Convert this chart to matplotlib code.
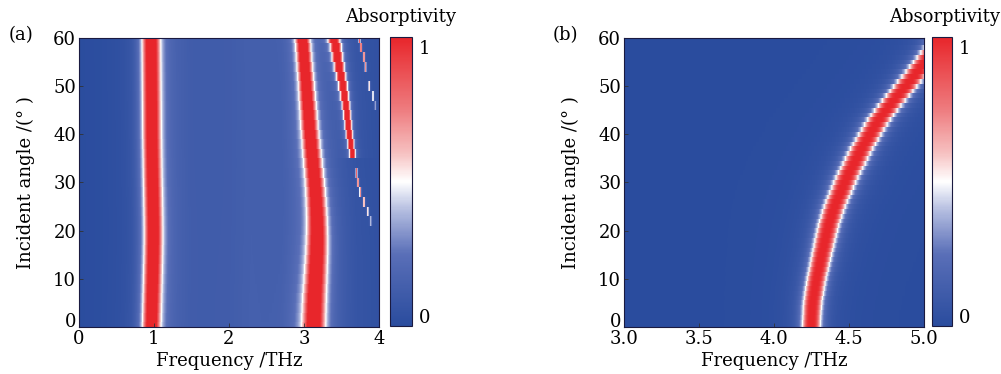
import numpy as np
import matplotlib
matplotlib.use("Agg")
import matplotlib.pyplot as plt
from matplotlib.colors import LinearSegmentedColormap

# ---------------- data ----------------
# panel (a): incident angles (deg) of the simulated rows
angles_a = list(range(0, 61, 2))

# panel (a): resonance centres (THz) per angle
peak1_a = [0.965, 0.968, 0.971, 0.974, 0.977, 0.980, 0.983, 0.986, 0.988, 0.990,
           0.990, 0.989, 0.987, 0.985, 0.983, 0.980, 0.978, 0.976, 0.974, 0.972,
           0.970, 0.969, 0.968, 0.967, 0.966, 0.965, 0.964, 0.963, 0.962, 0.961, 0.960]
width1_a = 0.11
peak2_a = [3.130, 3.133, 3.137, 3.142, 3.148, 3.155, 3.161, 3.167, 3.172, 3.175,
           3.176, 3.174, 3.170, 3.163, 3.155, 3.145, 3.133, 3.120, 3.107, 3.095,
           3.083, 3.072, 3.062, 3.052, 3.042, 3.032, 3.022, 3.011, 3.000, 2.990, 2.980]
width2_a = [0.140, 0.139, 0.138, 0.137, 0.135, 0.133, 0.131, 0.129, 0.127, 0.125,
            0.122, 0.120, 0.118, 0.116, 0.114, 0.112, 0.110, 0.108, 0.106, 0.104,
            0.102, 0.100, 0.098, 0.096, 0.094, 0.092, 0.090, 0.089, 0.088, 0.087, 0.086]
angles3_a = [36, 38, 40, 42, 44, 46, 48, 50, 52, 54, 56, 58, 60]
peak3_a = [3.645, 3.625, 3.605, 3.590, 3.575, 3.560, 3.540, 3.520, 3.495, 3.470,
           3.445, 3.425, 3.400]
width3_a = [0.036, 0.038, 0.040, 0.042, 0.044, 0.047, 0.050, 0.053, 0.056, 0.060,
            0.063, 0.066, 0.070]
angles4_a = [22, 24, 26, 28, 30, 32, 46, 48, 50, 54, 56, 58, 60]
peak4_a = [3.89, 3.85, 3.80, 3.75, 3.72, 3.70, 3.95, 3.92, 3.87, 3.82, 3.80, 3.76, 3.74]
amp4_a = [0.35, 0.50, 0.60, 0.65, 0.70, 0.75, 0.30, 0.45, 0.50, 0.65, 0.70, 0.75, 0.80]
width4_a = 0.012
# broad background absorptivity of panel (a)
bg_freq_a = [0.0, 0.7, 1.1, 1.5, 2.0, 2.3, 2.7, 2.9, 3.4, 3.7, 4.0]
bg_val_a = [0.00, 0.01, 0.13, 0.10, 0.11, 0.13, 0.11, 0.13, 0.08, 0.04, 0.03]

# panel (b): incident angles (deg), resonance centre (THz) and width per angle
angles_b = list(range(0, 61, 1))
peak_b = [4.249, 4.250, 4.252, 4.254, 4.256, 4.259, 4.263, 4.268, 4.273, 4.279,
          4.285, 4.291, 4.298, 4.305, 4.312, 4.319, 4.326, 4.333, 4.340, 4.348,
          4.356, 4.364, 4.373, 4.383, 4.393, 4.405, 4.418, 4.431, 4.444, 4.458,
          4.472, 4.487, 4.503, 4.519, 4.535, 4.551, 4.568, 4.585, 4.603, 4.621,
          4.640, 4.660, 4.680, 4.701, 4.723, 4.747, 4.772, 4.798, 4.825, 4.850,
          4.875, 4.902, 4.930, 4.955, 4.980, 5.005, 5.030, 5.055, 5.080, 5.105, 5.130]
width_b = [0.058, 0.058, 0.058, 0.058, 0.059, 0.059, 0.059, 0.060, 0.060, 0.060,
           0.061, 0.061, 0.062, 0.062, 0.063, 0.063, 0.064, 0.064, 0.065, 0.065,
           0.066, 0.066, 0.067, 0.067, 0.068, 0.068, 0.069, 0.069, 0.070, 0.070,
           0.071, 0.071, 0.071, 0.071, 0.072, 0.072, 0.072, 0.072, 0.072, 0.072,
           0.072, 0.072, 0.073, 0.073, 0.073, 0.073, 0.073, 0.073, 0.073, 0.073,
           0.074, 0.074, 0.074, 0.074, 0.074, 0.074, 0.075, 0.075, 0.075, 0.075, 0.075]

xticks_a = [0, 1, 2, 3, 4]
xticks_b = [3.0, 3.5, 4.0, 4.5, 5.0]
yticks = [0, 10, 20, 30, 40, 50, 60]

# ---------------- build maps ----------------
def shape(x):
    return 0.9 / (1 + x ** 4) + 0.1 / (1 + (x / 2.0) ** 2)

fa = np.linspace(0, 4, 1200)
Za = np.zeros((len(angles_a), fa.size))
bg = np.interp(fa, bg_freq_a, bg_val_a)
for i, ang in enumerate(angles_a):
    row = bg.copy()
    row += shape((fa - peak1_a[i]) / width1_a)
    row += shape((fa - peak2_a[i]) / width2_a[i])
    if ang in angles3_a:
        k = angles3_a.index(ang)
        row += shape((fa - peak3_a[k]) / width3_a[k])
    if ang in angles4_a:
        k = angles4_a.index(ang)
        row += amp4_a[k] / (1 + ((fa - peak4_a[k]) / width4_a) ** 4)
    Za[i] = row
Za = np.clip(Za, 0, 1)

fb = np.linspace(3, 5, 900)
Zb = np.zeros((len(angles_b), fb.size))
for i, ang in enumerate(angles_b):
    Zb[i] = shape((fb - peak_b[i]) / width_b[i])
Zb = np.clip(Zb, 0, 1)

cmap = LinearSegmentedColormap.from_list(
    "absb", [(0.0, "#2a4c9e"), (0.25, "#5a6fb8"), (0.40, "#b4bde0"),
             (0.5, "#ffffff"), (0.60, "#f6c0c0"), (0.75, "#ee7c7f"),
             (1.0, "#e8262b")])

# ---------------- figure ----------------
plt.rcParams["font.family"] = ["DejaVu Serif"]
plt.rcParams["font.size"] = 13
fig = plt.figure(figsize=(10.01, 3.74), dpi=100)

ax_a = fig.add_axes([0.0789, 0.1257, 0.2997, 0.7727])
cax_a = fig.add_axes([0.3896, 0.1283, 0.022, 0.7727])
ax_b = fig.add_axes([0.6234, 0.1257, 0.2997, 0.7727])
cax_b = fig.add_axes([0.9311, 0.1283, 0.020, 0.7727])

ma = ax_a.pcolormesh(fa, angles_a, Za, cmap=cmap, vmin=0, vmax=1,
                     shading="nearest", rasterized=True)
mb = ax_b.pcolormesh(fb, angles_b, Zb, cmap=cmap, vmin=0, vmax=1,
                     shading="nearest", rasterized=True)

for ax, xt, xl in [(ax_a, xticks_a, (0, 4)), (ax_b, xticks_b, (3, 5))]:
    ax.set_xlim(*xl)
    ax.set_ylim(0, 60)
    ax.set_xticks(xt)
    ax.set_yticks(yticks)
    ax.tick_params(direction="in", length=3, width=0.6, color="#333333",
                   labelsize=13)
    ax.tick_params(axis="x", pad=2)
    ax.tick_params(axis="y", pad=2)
    ax.set_xlabel("Frequency /THz", fontsize=13, labelpad=3)
    ax.set_ylabel("Incident angle /(° )", fontsize=13, labelpad=13)
    for s in ax.spines.values():
        s.set_linewidth(0.8)
        s.set_color("#1a1a40")
ax_b.set_xticklabels(["3.0", "3.5", "4.0", "4.5", "5.0"])
for ax in (ax_a, ax_b):
    ax.get_yticklabels()[0].set_va("baseline")

for cax, m, xc in [(cax_a, ma, 0.40), (cax_b, mb, 0.944)]:
    cb = fig.colorbar(m, cax=cax)
    cb.set_ticks([0.035, 0.965])
    cb.set_ticklabels(["0", "1"])
    cb.ax.tick_params(length=0, labelsize=13, pad=5)
    cb.outline.set_linewidth(0.8)
    cb.outline.set_edgecolor("#1a1a40")
    fig.text(xc, 0.955, "Absorptivity", ha="center", va="center", fontsize=13)

fig.text(0.021, 0.907, "(a)", ha="center", va="center", fontsize=13)
fig.text(0.565, 0.907, "(b)", ha="center", va="center", fontsize=13)

fig.savefig("out.png", dpi=100)
